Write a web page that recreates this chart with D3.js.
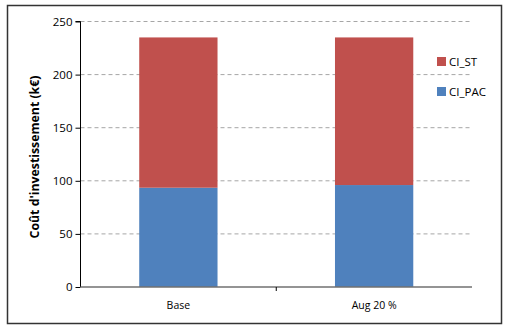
<!DOCTYPE html>
<html><head><meta charset="utf-8">
<script src="https://cdn.jsdelivr.net/npm/d3@7"></script>
<style>body{margin:0;background:#fff}</style>
</head><body><svg id="c" width="510" height="327"></svg>
<script>
const categories = ["Base", "Aug 20 %"];
const ciPAC = [93.5, 96];
const ciST = [141.5, 139];
const seriesNames = ["CI_PAC", "CI_ST"];
const yTicks = [0, 50, 100, 150, 200, 250];

const colors = {CI_PAC: "#4F81BD", CI_ST: "#C0504D"};
const svg = d3.select("#c");
const font = "Open Sans, Liberation Sans, sans-serif";

svg.append("rect").attr("x", 7.5).attr("y", 5.5).attr("width", 494).attr("height", 318)
  .attr("fill", "#fff").attr("stroke", "#333").attr("stroke-width", 1.5);

const L = 80.5, R = 472, T = 21.5, B = 287;
const x = d3.scaleBand().domain(categories).range([L, R]).paddingInner(0.6).paddingOuter(0.3);
const y = d3.scaleLinear().domain([0, 250]).range([B, T]);

// gridlines
svg.append("g").selectAll("line").data(yTicks.filter(d => d > 0)).join("line")
  .attr("x1", L).attr("x2", R).attr("y1", d => y(d)).attr("y2", d => y(d))
  .attr("stroke", "#a6a6a6").attr("stroke-dasharray", "4,3").attr("stroke-width", 1);

const data = categories.map((c, i) => ({cat: c, CI_PAC: ciPAC[i], CI_ST: ciST[i]}));
const stack = d3.stack().keys(seriesNames)(data);
svg.append("g").selectAll("g").data(stack).join("g")
  .attr("fill", d => colors[d.key])
  .selectAll("rect").data(d => d).join("rect")
  .attr("x", d => x(d.data.cat)).attr("width", x.bandwidth())
  .attr("y", d => y(d[1])).attr("height", d => y(d[0]) - y(d[1]));

// y axis
const ya = svg.append("g").attr("transform", `translate(${L},0)`)
  .call(d3.axisLeft(y).tickValues(yTicks).tickSize(5).tickPadding(3));
ya.select(".domain").attr("stroke", "#000").attr("d", `M-5,${T}H0V${B}`);
ya.selectAll(".tick line").attr("stroke", "#000");
ya.selectAll("text").attr("font-family", font).attr("font-size", 11.5).attr("fill", "#000");

// x axis
const xa = svg.append("g").attr("transform", `translate(0,${B})`)
  .call(d3.axisBottom(x).tickSize(0).tickPadding(15));
xa.select(".domain").attr("stroke", "#707070").attr("stroke-width", 1.5).attr("d", `M${L},0H${R}`);
xa.selectAll("text").attr("font-family", font).attr("font-size", 10.5).attr("fill", "#000");
const mid = (x(categories[0]) + x(categories[1]) + x.bandwidth()) / 2;
svg.append("line").attr("x1", mid).attr("x2", mid).attr("y1", B).attr("y2", B + 4).attr("stroke", "#000");

// y label
svg.append("text").attr("transform", `translate(39,157) rotate(-90)`)
  .attr("text-anchor", "middle").attr("font-family", font).attr("font-weight", "bold")
  .attr("font-size", 12.3).text("Coût d'investissement (k€)");

// legend
const leg = [{k: "CI_ST", y: 57}, {k: "CI_PAC", y: 87}];
const lg = svg.append("g").selectAll("g").data(leg).join("g");
lg.append("rect").attr("x", 437).attr("y", d => d.y).attr("width", 9).attr("height", 9).attr("fill", d => colors[d.k]);
lg.append("text").attr("x", 449).attr("y", d => d.y + 9).attr("font-family", font).attr("font-size", 11.5)
  .text(d => d.k);
</script></body></html>
